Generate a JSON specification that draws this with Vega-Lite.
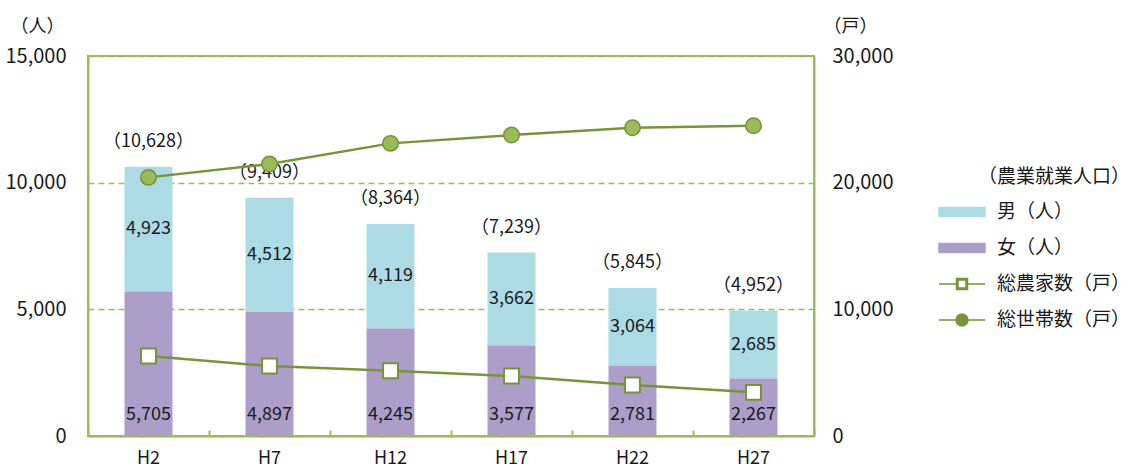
{
  "$schema": "https://vega.github.io/schema/vega-lite/v6.json",
  "autosize": {"type": "none"},
  "padding": {"left": 88, "top": 56, "right": 331, "bottom": 34},
  "width": 726,
  "height": 380,
  "data": {
    "values": [
      {"year": "H2", "男（人）": 4923, "女（人）": 5705, "total": 10628, "総農家数（戸）": 6316, "総世帯数（戸）": 20418},
      {"year": "H7", "男（人）": 4512, "女（人）": 4897, "total": 9409, "総農家数（戸）": 5525, "総世帯数（戸）": 21468},
      {"year": "H12", "男（人）": 4119, "女（人）": 4245, "total": 8364, "総農家数（戸）": 5154, "総世帯数（戸）": 23102},
      {"year": "H17", "男（人）": 3662, "女（人）": 3577, "total": 7239, "総農家数（戸）": 4736, "総世帯数（戸）": 23757},
      {"year": "H22", "男（人）": 3064, "女（人）": 2781, "total": 5845, "総農家数（戸）": 4025, "総世帯数（戸）": 24333},
      {"year": "H27", "男（人）": 2685, "女（人）": 2267, "total": 4952, "総農家数（戸）": 3449, "総世帯数（戸）": 24491}
    ]
  },
  "config": {
    "font": "Noto Sans CJK JP",
    "view": {"stroke": "#9bbb59", "strokeWidth": 2},
    "axis": {"labelColor": "#1a1a1a", "titleColor": "#1a1a1a", "labelFontSize": 18, "titleFontSize": 18, "titleFontWeight": "normal"},
    "text": {"fontSize": 18, "color": "#1a1a1a"}
  },
  "layer": [
    {
      "layer": [
        {
          "transform": [{"fold": ["男（人）", "女（人）"], "as": ["系列", "人数"]}],
          "mark": {"type": "bar", "size": 48},
          "encoding": {
            "x": {
              "field": "year", "type": "nominal",
              "scale": {"domain": ["H2", "H7", "H12", "H17", "H22", "H27"], "paddingInner": 0, "paddingOuter": 0},
              "axis": {"title": null, "orient": "bottom", "labelAngle": 0, "ticks": false, "domainColor": "#9bbb59", "domainWidth": 2, "labelPadding": 13, "zindex": 1}
            },
            "y": {
              "field": "人数", "type": "quantitative", "stack": "zero",
              "scale": {"domain": [0, 15000], "nice": false},
              "axis": {"title": "（人）", "titleAngle": 0, "titleAlign": "left", "titleBaseline": "middle", "titleX": -78, "titleY": -30, "values": [0, 5000, 10000, 15000], "format": ",d", "labelFontSize": 20, "labelPadding": 22, "ticks": false, "domainColor": "#9bbb59", "domainWidth": 2, "grid": true, "gridDash": [6, 4], "gridColor": "#9bbb59", "gridWidth": 1.5}
            },
            "color": {
              "field": "系列", "type": "nominal",
              "scale": {"domain": ["男（人）", "女（人）", "総農家数（戸）", "総世帯数（戸）"], "range": ["#acdbe6", "#ad9ec9", "#77933c", "#77933c"]},
              "legend": {
                "title": "（農業就業人口）", "orient": "none", "legendX": 850, "legendY": 112,
                "titleAnchor": "end", "titleFontSize": 19, "titleFontWeight": "normal", "titleColor": "#1a1a1a", "titlePadding": 15,
                "labelFontSize": 19, "labelColor": "#1a1a1a", "labelOffset": 37, "rowPadding": 16, "clipHeight": 20, "gridAlign": "all", "symbolSize": 400,
                "encode": {
                  "symbols": {
                    "update": {
                      "shape": {"signal": "datum.value === '男（人）' || datum.value === '女（人）' ? 'M-1,-0.45H3.6V0.45H-1Z' : datum.value === '総農家数（戸）' ? 'M-1,0H0.75M1.85,0H3.6M0.75,-0.55H1.85V0.55H0.75Z M0.9,-0.4V0.4H1.7V-0.4Z' : 'M-1,0H0.7M1.9,0H3.6M0.7,0A0.6,0.6 0 1,0 1.9,0A0.6,0.6 0 1,0 0.7,0Z'"},
                      "stroke": {"signal": "datum.value === '男（人）' || datum.value === '女（人）' ? 'transparent' : '#77933c'"},
                      "strokeWidth": {"value": 1.5},
                      "size": {"value": 400},
                      "opacity": {"value": 1},
                      "fillOpacity": {"value": 1}
                    }
                  }
                }
              }
            },
            "order": {"field": "系列", "sort": "ascending"}
          }
        },
        {
          "mark": {"type": "text", "baseline": "middle", "dy": -21},
          "encoding": {
            "x": {"field": "year", "type": "nominal"},
            "y": {"datum": 0, "type": "quantitative", "scale": {"domain": [0, 15000], "nice": false}},
            "text": {"field": "女（人）", "type": "quantitative", "format": ","}
          }
        },
        {
          "transform": [
            {"fold": ["女（人）", "total"], "as": ["k", "v"]},
            {"aggregate": [{"op": "mean", "field": "v", "as": "mid"}], "groupby": ["year", "男（人）"]}
          ],
          "mark": {"type": "text", "baseline": "middle"},
          "encoding": {
            "x": {"field": "year", "type": "nominal"},
            "y": {"field": "mid", "type": "quantitative", "scale": {"domain": [0, 15000], "nice": false}},
            "text": {"field": "男（人）", "type": "quantitative", "format": ","}
          }
        },
        {
          "mark": {"type": "text", "baseline": "middle", "dy": -25, "text": {"expr": "'（' + format(datum.total, ',') + '）'"}},
          "encoding": {
            "x": {"field": "year", "type": "nominal"},
            "y": {"field": "total", "type": "quantitative", "scale": {"domain": [0, 15000], "nice": false}}
          }
        }
      ]
    },
    {
      "layer": [
        {
          "transform": [{"fold": ["総農家数（戸）", "総世帯数（戸）"], "as": ["系列", "戸数"]}],
          "mark": {"type": "line", "strokeWidth": 2.5},
          "encoding": {
            "x": {
              "field": "year", "type": "nominal",
              "axis": {"title": null, "orient": "top", "offset": -380, "labels": false, "domain": false, "grid": false, "ticks": true, "tickBand": "extent", "tickSize": 6, "tickColor": "#9bbb59", "tickWidth": 2}
            },
            "y": {
              "field": "戸数", "type": "quantitative",
              "scale": {"domain": [0, 30000], "nice": false},
              "axis": {"title": "（戸）", "orient": "right", "titleAngle": 0, "titleAlign": "left", "titleBaseline": "middle", "titleX": 9, "titleY": -30, "values": [0, 10000, 20000, 30000], "format": ",d", "labelFontSize": 20, "labelPadding": 18, "ticks": false, "grid": false, "domainColor": "#9bbb59", "domainWidth": 2}
            },
            "color": {"field": "系列", "type": "nominal"}
          }
        },
        {
          "mark": {"type": "square", "size": 220, "fill": "#ffffff", "stroke": "#77933c", "strokeWidth": 2, "opacity": 1},
          "encoding": {
            "x": {"field": "year", "type": "nominal"},
            "y": {"field": "総農家数（戸）", "type": "quantitative", "scale": {"domain": [0, 30000], "nice": false}}
          }
        },
        {
          "mark": {"type": "circle", "size": 240, "fill": "#9bbb59", "stroke": "#77933c", "strokeWidth": 1.5, "opacity": 1},
          "encoding": {
            "x": {"field": "year", "type": "nominal"},
            "y": {"field": "総世帯数（戸）", "type": "quantitative", "scale": {"domain": [0, 30000], "nice": false}}
          }
        }
      ]
    }
  ],
  "resolve": {"scale": {"y": "independent"}, "axis": {"x": "independent"}}
}
